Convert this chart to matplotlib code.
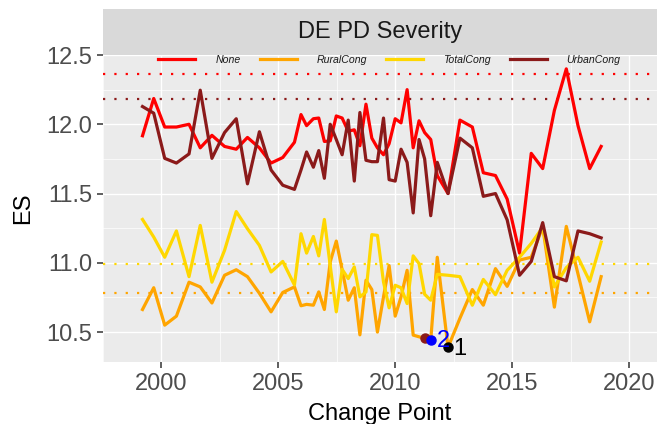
import matplotlib
matplotlib.use("Agg")
import matplotlib.pyplot as plt
from matplotlib.lines import Line2D

plt.rcParams['font.family'] = ['Liberation Sans', 'DejaVu Sans']

# ---- data ----
years = [1999.19, 1999.67, 2000.14, 2000.64, 2001.18, 2001.66, 2002.16, 2002.70,
         2003.20, 2003.68, 2004.19, 2004.69, 2005.19, 2005.69, 2005.97, 2006.21,
         2006.50, 2006.73, 2006.97, 2007.22, 2007.48, 2007.73, 2007.99, 2008.25,
         2008.49, 2008.75, 2009.00, 2009.24, 2009.50, 2009.74, 2010.00, 2010.25,
         2010.51, 2010.77, 2011.02, 2011.26, 2011.52, 2011.80, 2012.26, 2012.77,
         2013.30, 2013.77, 2014.29, 2014.79, 2015.32, 2015.82, 2016.31, 2016.81,
         2017.32, 2017.82, 2018.32, 2018.81]

none_es = [11.917, 12.186, 11.98, 11.98, 12.00, 11.83, 11.92, 11.84,
           11.82, 11.905, 11.83, 11.72, 11.76, 11.87, 12.07, 11.99,
           12.04, 12.045, 11.876, 11.88, 12.06, 12.045, 11.95, 11.96,
           11.845, 12.145, 11.90, 11.83, 11.78, 11.86, 12.04, 12.01,
           12.25, 11.83, 12.025, 11.94, 11.89, 11.63, 11.50, 12.03,
           11.98, 11.65, 11.63, 11.46, 11.07, 11.79, 11.68, 12.10,
           12.40, 11.99, 11.68, 11.84]

rural_es = [10.663, 10.82, 10.55, 10.615, 10.86, 10.826, 10.71, 10.91,
            10.95, 10.90, 10.78, 10.646, 10.786, 10.826, 10.69, 10.70,
            10.694, 10.79, 10.663, 11.006, 11.157, 10.95, 10.73, 10.82,
            10.48, 10.874, 10.807, 10.50, 10.754, 10.98, 10.615, 10.754,
            10.946, 10.478, 10.466, 10.454, 10.442, 11.04, 10.39, 10.60,
            10.807, 10.694, 10.958, 10.83, 11.02, 11.04, 11.26, 10.68,
            11.263, 10.92, 10.574, 10.90]

total_es = [11.313, 11.186, 11.04, 11.23, 10.90, 11.27, 10.86, 11.09,
            11.37, 11.246, 11.126, 10.934, 11.01, 10.84, 11.21, 11.07,
            11.19, 11.05, 11.313, 10.98, 10.646, 10.953, 10.886, 10.97,
            10.754, 10.79, 11.203, 11.198, 10.862, 10.675, 10.838, 10.82,
            10.706, 11.05, 10.994, 10.773, 10.73, 10.917, 10.91, 10.90,
            10.694, 10.88, 10.77, 10.946, 11.04, 11.14, 11.257, 10.826,
            10.965, 11.04, 10.867, 11.15]

urban_es = [12.128, 12.08, 11.754, 11.72, 11.786, 12.246, 11.754, 11.94,
            12.04, 11.57, 11.946, 11.67, 11.56, 11.53, 11.67, 11.80,
            11.69, 11.81, 11.61, 12.00, 11.89, 11.78, 12.03, 11.59,
            12.085, 11.74, 11.73, 11.73, 12.045, 11.60, 11.59, 11.82,
            11.725, 11.36, 11.89, 11.75, 11.34, 11.725, 11.50, 11.90,
            11.83, 11.48, 11.50, 11.31, 10.91, 11.01, 11.29, 10.90,
            10.87, 11.23, 11.21, 11.18]

series_names = ['None', 'RuralCong', 'TotalCong', 'UrbanCong']
series_colors = ['#FF0000', '#FFA500', '#FFD700', '#8B1A1A']
series_values = [none_es, rural_es, total_es, urban_es]

# reference (dotted) levels per series
ref_levels = [12.364, 10.780, 10.990, 12.180]

# highlighted change points
cp_x = [2011.26, 2011.52, 2012.26]
cp_y = [10.455, 10.440, 10.390]
cp_colors = ['#8B1A1A', '#0000FF', '#000000']
cp_labels = ['', '2', '1']

title = 'DE PD Severity'
xlabel = 'Change Point'
ylabel = 'ES'
xticks = [2000, 2005, 2010, 2015, 2020]
yticks = [10.5, 11.0, 11.5, 12.0, 12.5]

# ---- figure ----
W, H = 661, 424
fig = plt.figure(figsize=(W / 100, H / 100), dpi=100)
L, R, T, B = 103, 657, 55, 362
ax = fig.add_axes([L / W, 1 - B / H, (R - L) / W, (B - T) / H])
ax.set_facecolor('#EBEBEB')
for s in ax.spines.values():
    s.set_visible(False)

ax.set_xlim(1997.57, 2021.2)
ax.set_ylim(10.284, 12.493)
ax.set_xticks(xticks)
ax.set_yticks(yticks)
ax.set_xticklabels([str(t) for t in xticks])
ax.set_yticklabels([f'{t:.1f}' for t in yticks])
ax.set_xticks([1997.5, 2002.5, 2007.5, 2012.5, 2017.5], minor=True)
ax.set_yticks([10.75, 11.25, 11.75, 12.25], minor=True)
ax.grid(which='major', color='white', linewidth=1.0, zorder=0)
ax.grid(which='minor', color='white', linewidth=0.5, zorder=0)
ax.set_axisbelow(True)
ax.tick_params(which='major', length=4.6, width=1.1, color='#333333',
               labelcolor='#4D4D4D', labelsize=17, pad=3)
ax.tick_params(which='minor', length=0)

# dotted reference lines
for lvl, col in zip(ref_levels, series_colors):
    ax.axhline(lvl, color=col, linewidth=1.6, linestyle=(0, (1, 4.1)), zorder=1)

# series lines
handles = []
for name, col, vals in zip(series_names, series_colors, series_values):
    ln, = ax.plot(years, vals, color=col, linewidth=2.3, solid_joinstyle='round',
                  zorder=2, label=name)
    handles.append(ln)

# change points
for x, y, c, lab in zip(cp_x, cp_y, cp_colors, cp_labels):
    ax.plot([x], [y], 'o', color=c, markersize=6.5, zorder=4)
for x, y, c, lab, dx, dy in zip(cp_x, cp_y, cp_colors, cp_labels,
                                [0, 4.5, 3.5], [0, -0.5, -1]):
    if lab:
        ax.annotate(lab, (x, y), xytext=(dx, dy), textcoords='offset points',
                    ha='left', va='center', color=c, fontsize=17, zorder=5)

ax.set_xlabel(xlabel, fontsize=17, color='black', labelpad=6)
ax.set_ylabel(ylabel, fontsize=17, color='black', labelpad=9)

leg = fig.legend(handles=handles, labels=series_names, loc='center',
                 bbox_to_anchor=(389.5 / W, 1 - 60 / H), ncol=4, frameon=False,
                 handlelength=3.5, handletextpad=1.9, columnspacing=1.8,
                 prop={'style': 'italic', 'size': 7.6})
for t in leg.get_texts():
    t.set_color('#1A1A1A')

# facet strip
sax = fig.add_axes([L / W, 1 - T / H, (R - L) / W, (T - 9) / H])
sax.set_facecolor('#D9D9D9')
sax.set_xticks([])
sax.set_yticks([])
for s in sax.spines.values():
    s.set_visible(False)
sax.text(0.5, 0.5, title, ha='center', va='center', fontsize=17,
         color='#1A1A1A', transform=sax.transAxes)

fig.savefig('out.png', dpi=100)
